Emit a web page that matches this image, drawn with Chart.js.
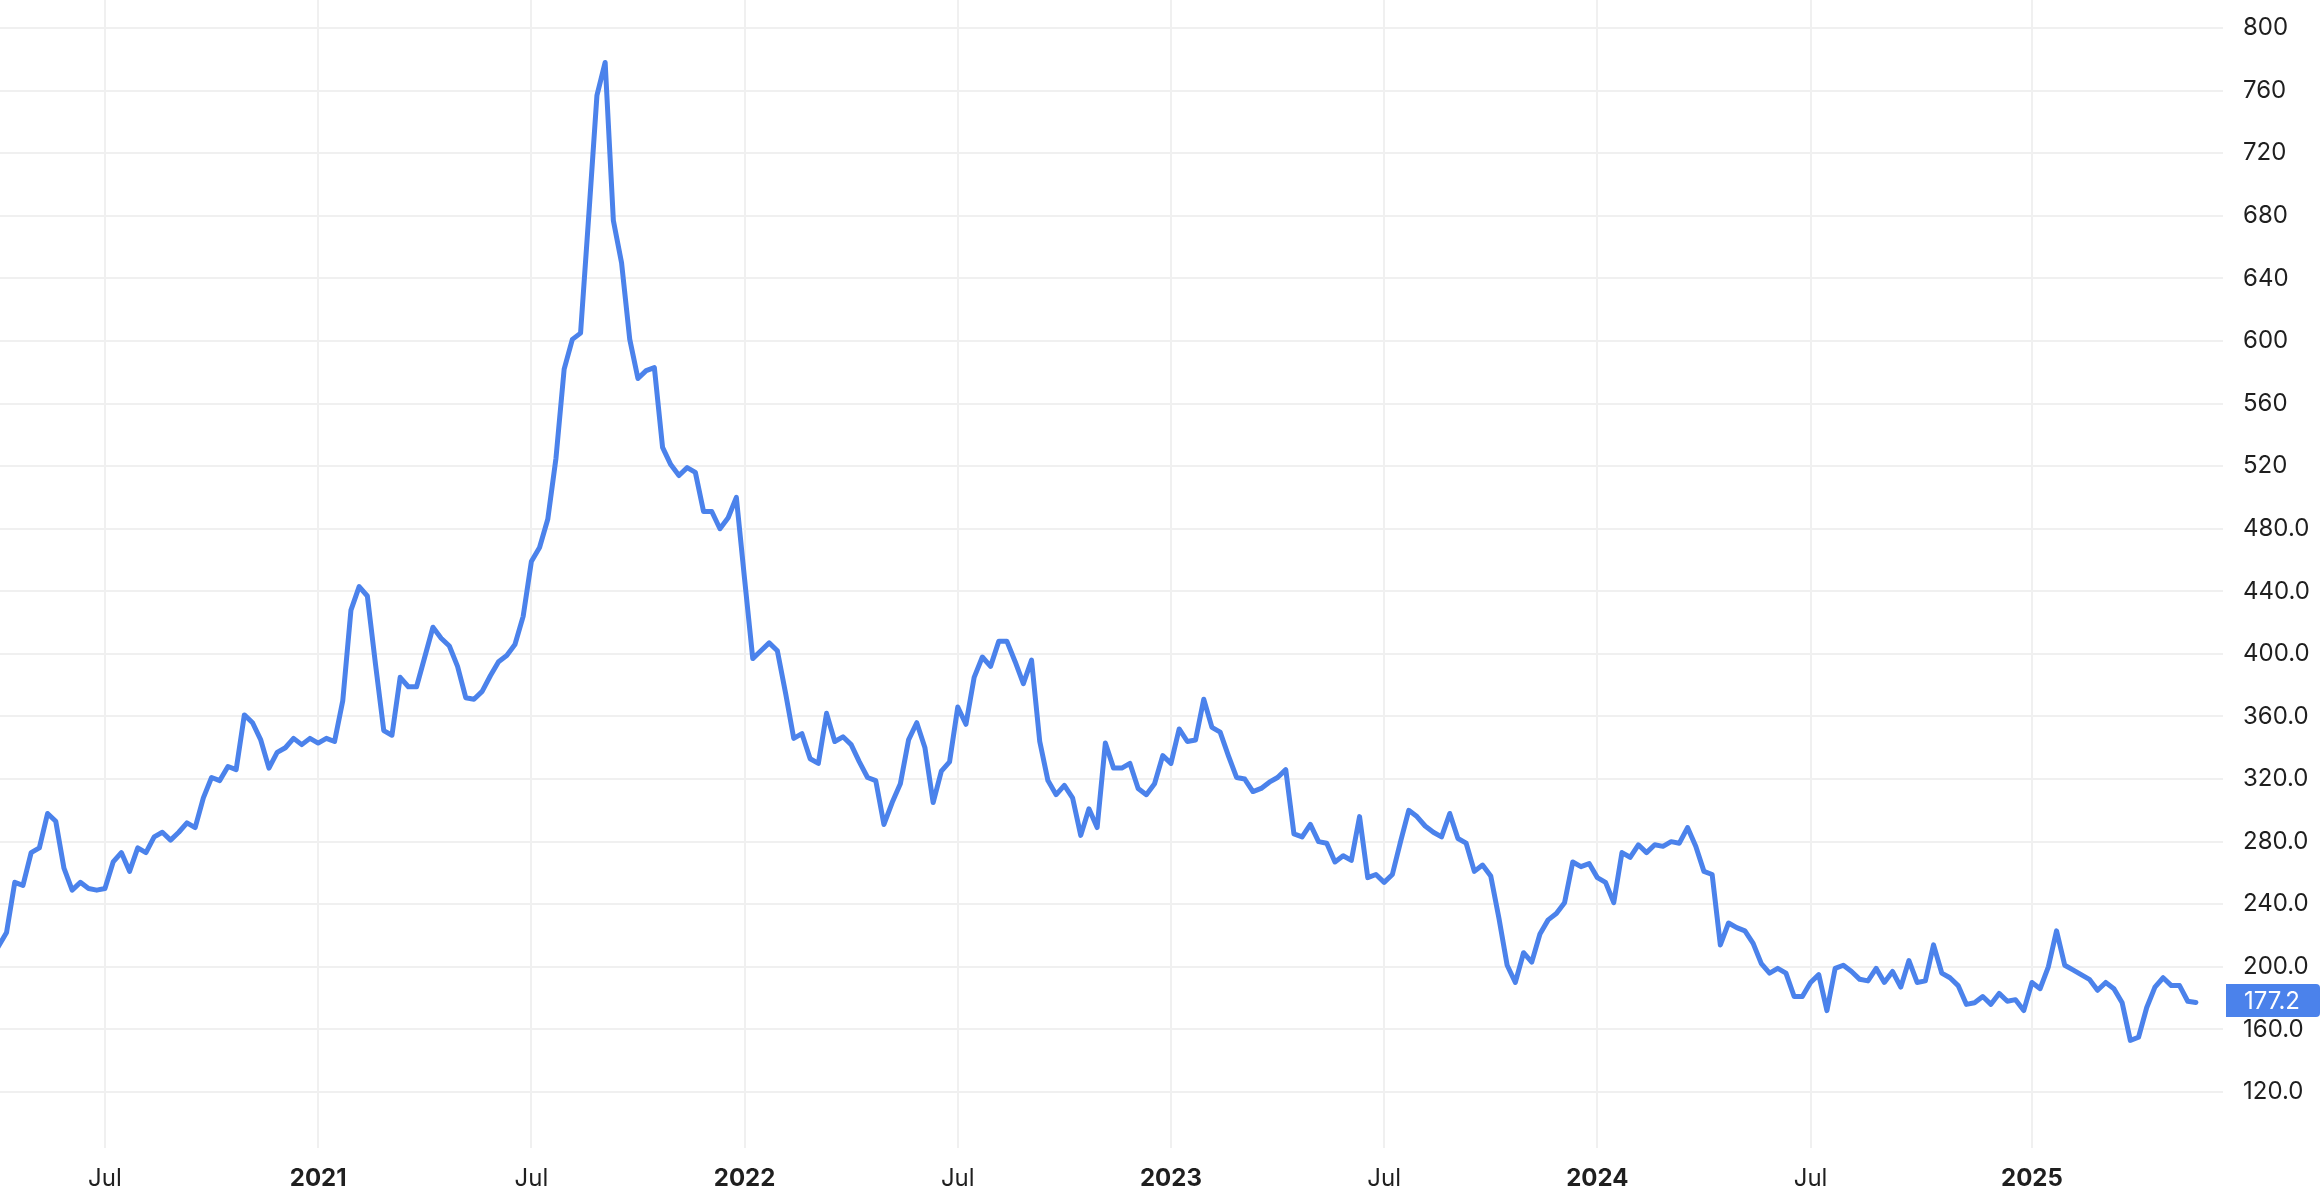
<!DOCTYPE html>
<html>
<head>
<meta charset="utf-8">
<script src="https://cdn.jsdelivr.net/npm/chart.js@4.4.1/dist/chart.umd.min.js"></script>
<style>
  html, body { margin: 0; padding: 0; background: #ffffff; }
  #wrap { width: 2324px; height: 1192px; position: relative; }
  canvas { display: block; }
</style>
</head>
<body>
<div id="wrap"><canvas id="c" width="2324" height="1192"></canvas></div>
<script>
// Weekly values (index = week number from the start of the series)
const values = [
  213, 222, 254, 252, 273, 276, 298, 293, 263, 249,
  254, 250, 249, 250, 267, 273, 261, 276, 273, 283,
  286, 281, 286, 292, 289, 308, 321, 319, 328, 326,
  361, 356, 345, 327, 337, 340, 346, 342, 346, 343,
  346, 344, 370, 428, 443, 437, 393, 351, 348, 385,
  379, 379, 398, 417, 410, 405, 392, 372, 371, 376,
  386, 395, 399, 406, 424, 459, 468, 486, 525, 582,
  601, 605, 680, 757, 778, 677, 650, 601, 576, 581,
  583, 532, 521, 514, 519, 516, 491, 491, 480, 487,
  500, 448, 397, 402, 407, 402, 375, 346, 349, 333,
  330, 362, 344, 347, 342, 331, 321, 319, 291, 305,
  317, 345, 356, 340, 305, 325, 331, 366, 355, 385,
  398, 392, 408, 408, 395, 381, 396, 344, 319, 310,
  316, 308, 284, 301, 289, 343, 327, 327, 330, 314,
  310, 317, 335, 330, 352, 344, 345, 371, 353, 350,
  335, 321, 320, 312, 314, 318, 321, 326, 285, 283,
  291, 280, 279, 267, 271, 268, 296, 257, 259, 254,
  259, 280, 300, 296, 290, 286, 283, 298, 282, 279,
  261, 265, 258, 231, 201, 190, 209, 203, 221, 230,
  234, 241, 267, 264, 266, 257, 254, 241, 273, 270,
  278, 273, 278, 277, 280, 279, 289, 277, 261, 259,
  214, 228, 225, 223, 215, 202, 196, 199, 196, 181,
  181, 190, 195, 172, 199, 201, 197, 192, 191, 199,
  190, 197, 187, 204, 190, 191, 214, 196, 193, 188,
  176, 177, 181, 176, 183, 178, 179, 172, 190, 186,
  200, 223, 201, 198, 195, 192, 185, 190, 186, 177,
  153, 155, 174, 187, 193, 188, 188, 178, 177.2
];

// X-axis ticks: week index of the first data point of each half-year
const xTickIndex = [13, 39, 65, 91, 117, 143, 169, 195, 221, 248];
const xTickText  = ['Jul', '2021', 'Jul', '2022', 'Jul', '2023', 'Jul', '2024', 'Jul', '2025'];

// Y-axis ticks
const yTickValues = [120, 160, 200, 240, 280, 320, 360, 400, 440, 480, 520, 560, 600, 640, 680, 720, 760, 800];
const yTickText   = ['120.0', '160.0', '200.0', '240.0', '280.0', '320.0', '360.0', '400.0', '440.0', '480.0',
                     '520', '560', '600', '640', '680', '720', '760', '800'];

const LINE = '#4b82eb';
const GRID = '#f0f0f0';
const FONT = 'Inter';

const points = values.map((v, i) => ({ x: i, y: v }));

const lastLabel = {
  id: 'lastLabel',
  afterDraw(chart) {
    const { ctx, chartArea } = chart;
    const y = chart.scales.y;
    const v = values[values.length - 1];
    const py = y.getPixelForValue(v) - 2;
    const h = 33;
    const x0 = chartArea.right + 3;
    const x1 = chart.width - 4;
    ctx.save();
    ctx.fillStyle = LINE;
    ctx.beginPath();
    if (ctx.roundRect) ctx.roundRect(x0, py - h / 2, x1 - x0, h, [0, 4, 4, 0]);
    else ctx.rect(x0, py - h / 2, x1 - x0, h);
    ctx.fill();
    ctx.fillStyle = '#ffffff';
    ctx.font = '24px ' + FONT;
    ctx.textAlign = 'left';
    ctx.textBaseline = 'middle';
    ctx.fillText(v.toFixed(1), chartArea.right + 21, py + 1);
    ctx.restore();
  }
};

new Chart(document.getElementById('c'), {
  type: 'line',
  data: {
    datasets: [{
      data: points,
      borderColor: LINE,
      borderWidth: 5,
      borderJoinStyle: 'round',
      borderCapStyle: 'round',
      pointRadius: 0,
      tension: 0,
      fill: false
    }]
  },
  options: {
    responsive: false,
    devicePixelRatio: 1,
    animation: false,
    layout: { padding: 0 },
    plugins: {
      legend: { display: false },
      tooltip: { enabled: false }
    },
    scales: {
      x: {
        type: 'linear',
        min: 0.2,
        max: 271.3,
        afterBuildTicks: (s) => { s.ticks = xTickIndex.map(v => ({ value: v })); },
        afterFit: (s) => { s.height = 44; s.paddingLeft = 0; s.paddingRight = 0; s.paddingTop = 0; s.paddingBottom = 0; },
        grid: { color: GRID, lineWidth: 2, drawTicks: false },
        border: { display: false },
        ticks: {
          autoSkip: false,
          maxRotation: 0,
          padding: 16,
          color: '#1f1f1f',
          font: (ctx) => {
            const i = ctx.index;
            const bold = i !== undefined && xTickText[i] && xTickText[i] !== 'Jul';
            return { family: FONT, size: 24, weight: bold ? 'bold' : 'normal' };
          },
          callback: (value) => {
            const k = xTickIndex.indexOf(value);
            return k >= 0 ? xTickText[k] : '';
          }
        }
      },
      y: {
        type: 'linear',
        position: 'right',
        min: 84.2,
        max: 817.9,
        afterBuildTicks: (s) => { s.ticks = yTickValues.map(v => ({ value: v })); },
        afterFit: (s) => { s.width = 101; s.paddingLeft = 0; s.paddingRight = 0; s.paddingTop = 0; s.paddingBottom = 0; },
        grid: { color: GRID, lineWidth: 2, drawTicks: false },
        border: { display: false },
        ticks: {
          padding: 20,
          color: '#1f1f1f',
          font: { family: FONT, size: 24 },
          callback: (value) => {
            const k = yTickValues.indexOf(value);
            return k >= 0 ? yTickText[k] : '';
          }
        }
      }
    }
  },
  plugins: [lastLabel]
});
</script>
</body>
</html>
